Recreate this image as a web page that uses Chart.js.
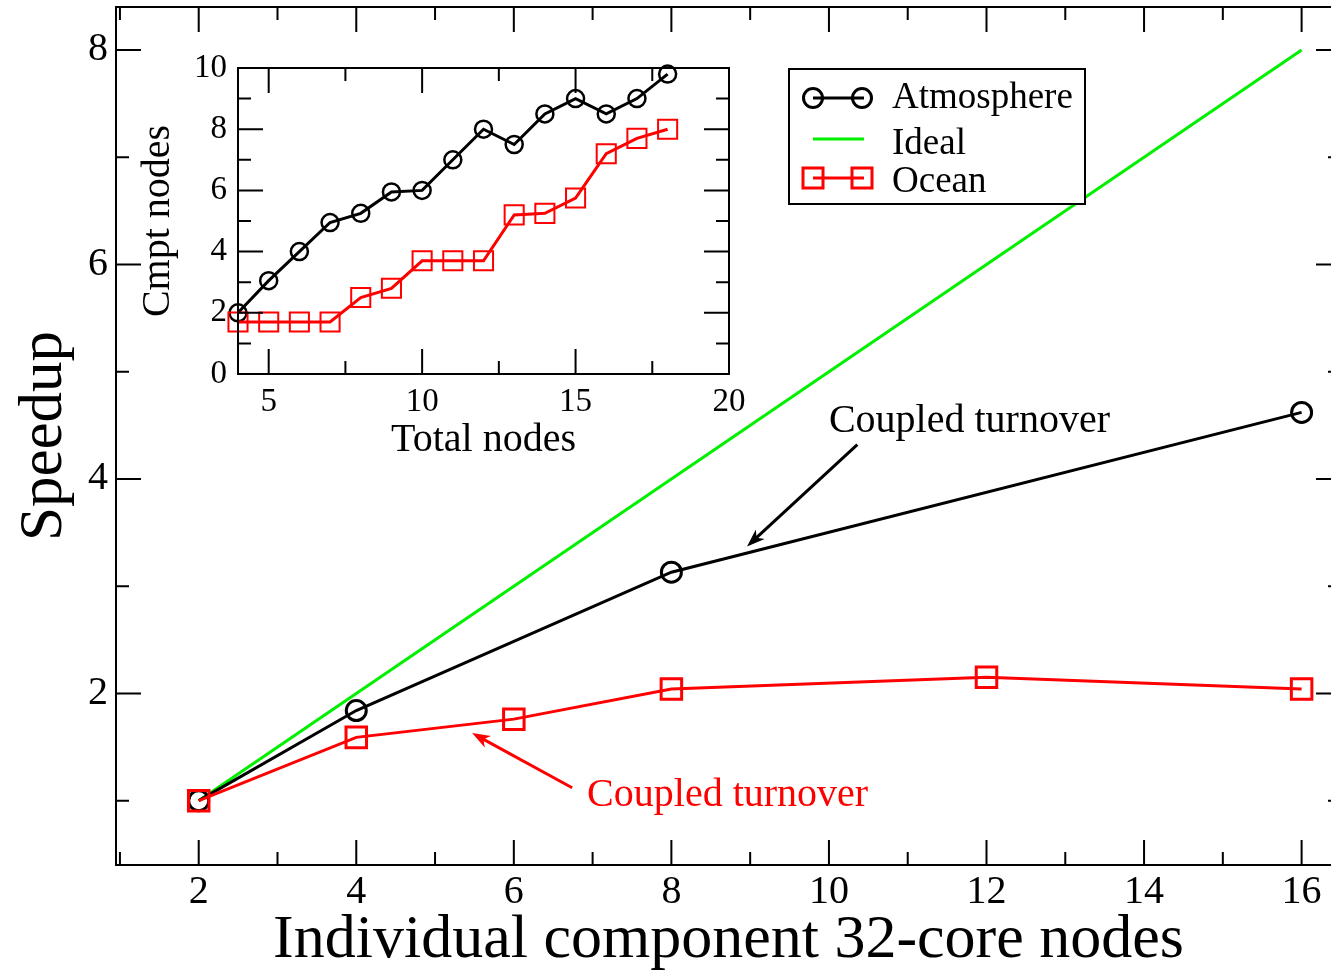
<!DOCTYPE html>
<html>
<head>
<meta charset="utf-8">
<title>Speedup</title>
<script src="https://cdn.jsdelivr.net/npm/chart.js@4.4.0/dist/chart.umd.min.js"></script>
<style>
  html, body { margin: 0; padding: 0; background: #fff; overflow: hidden; }
  #main { position: absolute; left: 0; top: 0; }
  #inset { position: absolute; left: 120px; top: 28px; }
</style>
</head>
<body>
<canvas id="main" width="1350" height="973"></canvas>
<canvas id="inset" width="649" height="452"></canvas>
<script>
// Main chart data
const atmX = [2, 4, 8, 16];
const atmY = [1, 1.84, 3.13, 4.62];
const idealX = [2, 16];
const idealY = [1, 8];
const oceanX = [2, 4, 6, 8, 12, 16];
const oceanY = [1, 1.59, 1.76, 2.04, 2.15, 2.04];

const xTicks = [2, 4, 6, 8, 10, 12, 14, 16];
const xMinor = [1, 3, 5, 7, 9, 11, 13, 15];
const yTicks = [2, 4, 6, 8];
const yMinor = [1, 3, 5, 7];

// Inset data
const insetX = [4, 5, 6, 7, 8, 9, 10, 11, 12, 13, 14, 15, 16, 17, 18];
const insetAtm = [2, 3.05, 4, 4.95, 5.25, 5.95, 6, 7, 8, 7.5, 8.5, 9, 8.5, 9, 9.8];
const insetOcean = [1.7, 1.7, 1.7, 1.7, 2.5, 2.8, 3.7, 3.7, 3.7, 5.2, 5.25, 5.75, 7.2, 7.7, 8];

const insetXTicks = [5, 10, 15, 20];
const insetXMinor = [7.5, 12.5, 17.5];
const insetYTicks = [0, 2, 4, 6, 8, 10];
const insetYMinor = [1, 3, 5, 7, 9];

// Annotations (data coordinates)
const noteLabels = ['Coupled turnover', 'Coupled turnover'];
const noteColors = ['#000', '#ff0000'];
const noteTextAt = [[10, 4.44], [6.93, 0.95]];
const noteTail = [[10.36, 4.32], [6.74, 1.12]];
const noteHead = [[8.96, 3.37], [5.47, 1.63]];

const RED = '#ff0000';
const GREEN = '#00f000';
const SERIF = '"Liberation Serif", "DejaVu Serif", serif';

Chart.defaults.font.family = SERIF;
Chart.defaults.color = '#000';

const pts = (xs, ys) => xs.map((x, i) => ({x: x, y: ys[i]}));

// frame plus inward ticks on all four sides
const frameTicks = {
  id: 'frameTicks',
  beforeDraw(chart, args, o) {
    if (!o.fill) return;
    const a = chart.chartArea;
    chart.ctx.save();
    chart.ctx.fillStyle = '#fff';
    chart.ctx.fillRect(a.left, a.top, a.right - a.left, a.bottom - a.top);
    chart.ctx.restore();
  },
  afterDatasetsDraw(chart, args, o) {
    const {ctx, chartArea: a} = chart;
    const sx = chart.scales.x, sy = chart.scales.y;
    ctx.save();
    ctx.strokeStyle = '#000';
    ctx.lineWidth = 2;
    ctx.beginPath();
    const vt = (vals, len) => vals.forEach(v => {
      const p = sx.getPixelForValue(v);
      ctx.moveTo(p, a.bottom); ctx.lineTo(p, a.bottom - len);
      ctx.moveTo(p, a.top); ctx.lineTo(p, a.top + len);
    });
    const ht = (vals, len) => vals.forEach(v => {
      const p = sy.getPixelForValue(v);
      ctx.moveTo(a.left, p); ctx.lineTo(a.left + len, p);
      ctx.moveTo(a.right, p); ctx.lineTo(a.right - len, p);
    });
    vt(o.xMajor, 25); vt(o.xMinor, 13);
    ht(o.yMajor, 25); ht(o.yMinor, 13);
    ctx.stroke();
    ctx.strokeRect(a.left, a.top, a.right - a.left, a.bottom - a.top);
    ctx.restore();
  }
};

function marker(ctx, style, x, y, color) {
  ctx.strokeStyle = color;
  ctx.lineWidth = 3;
  ctx.beginPath();
  if (style === 'circle') ctx.arc(x, y, 9.5, 0, Math.PI * 2);
  else ctx.rect(x - 10, y - 10, 20, 20);
  ctx.stroke();
}

const legendBox = {
  id: 'legendBox',
  afterDraw(chart) {
    const ctx = chart.ctx;
    ctx.save();
    ctx.fillStyle = '#fff';
    ctx.fillRect(789, 69, 296, 135);
    ctx.strokeStyle = '#000';
    ctx.lineWidth = 2;
    ctx.strokeRect(789, 69, 296, 135);
    const rows = [
      {label: 'Atmosphere', color: '#000', style: 'circle', y: 98, base: 108},
      {label: 'Ideal', color: GREEN, style: null, y: 139, base: 154},
      {label: 'Ocean', color: RED, style: 'rect', y: 178, base: 192}
    ];
    rows.forEach(r => {
      ctx.strokeStyle = r.color;
      ctx.lineWidth = 3;
      ctx.beginPath();
      ctx.moveTo(813, r.y); ctx.lineTo(864, r.y);
      ctx.stroke();
      if (r.style) { marker(ctx, r.style, 813, r.y, r.color); marker(ctx, r.style, 862, r.y, r.color); }
      ctx.fillStyle = '#000';
      ctx.font = '37px ' + SERIF;
      ctx.textAlign = 'left';
      ctx.textBaseline = 'alphabetic';
      ctx.fillText(r.label, 892, r.base);
    });
    ctx.restore();
  }
};

const notes = {
  id: 'notes',
  afterDatasetsDraw(chart) {
    const {ctx} = chart;
    const sx = chart.scales.x, sy = chart.scales.y;
    ctx.save();
    noteLabels.forEach((txt, i) => {
      const c = noteColors[i];
      const tx = sx.getPixelForValue(noteTail[i][0]), ty = sy.getPixelForValue(noteTail[i][1]);
      const hx = sx.getPixelForValue(noteHead[i][0]), hy = sy.getPixelForValue(noteHead[i][1]);
      const ang = Math.atan2(hy - ty, hx - tx);
      const cs = Math.cos(ang), sn = Math.sin(ang);
      ctx.strokeStyle = c;
      ctx.fillStyle = c;
      ctx.lineWidth = 3;
      ctx.beginPath();
      ctx.moveTo(tx, ty);
      ctx.lineTo(hx - 10 * cs, hy - 10 * sn);
      ctx.stroke();
      ctx.beginPath();
      ctx.moveTo(hx, hy);
      ctx.lineTo(hx - 18 * cs + 6.5 * sn, hy - 18 * sn - 6.5 * cs);
      ctx.lineTo(hx - 13 * cs, hy - 13 * sn);
      ctx.lineTo(hx - 18 * cs - 6.5 * sn, hy - 18 * sn + 6.5 * cs);
      ctx.closePath();
      ctx.fill();
      ctx.font = '40px ' + SERIF;
      ctx.textAlign = 'left';
      ctx.textBaseline = 'alphabetic';
      ctx.fillText(txt, sx.getPixelForValue(noteTextAt[i][0]), sy.getPixelForValue(noteTextAt[i][1]));
    });
    ctx.restore();
  }
};

// Main chart
new Chart(document.getElementById('main'), {
  type: 'line',
  data: {
    datasets: [
      {
        label: 'Atmosphere', data: pts(atmX, atmY), order: 1,
        borderColor: '#000', borderWidth: 3, tension: 0,
        pointStyle: 'circle', pointRadius: 10, pointBorderWidth: 3,
        pointBorderColor: '#000', pointBackgroundColor: 'rgba(0,0,0,0)'
      },
      {
        label: 'Ideal', data: pts(idealX, idealY), order: 2,
        borderColor: GREEN, borderWidth: 3, tension: 0, pointRadius: 0
      },
      {
        label: 'Ocean', data: pts(oceanX, oceanY), order: 0,
        borderColor: RED, borderWidth: 3, tension: 0,
        pointStyle: 'rect', pointRadius: 14.5, pointBorderWidth: 3,
        pointBorderColor: RED, pointBackgroundColor: 'rgba(0,0,0,0)'
      }
    ]
  },
  options: {
    responsive: false,
    animation: false,
    events: [],
    layout: { autoPadding: false, padding: { left: 0, top: 7, right: 9, bottom: 0 } },
    plugins: {
      legend: { display: false },
      tooltip: { enabled: false },
      frameTicks: { xMajor: xTicks, xMinor: xMinor, yMajor: yTicks, yMinor: yMinor }
    },
    scales: {
      x: {
        type: 'linear', min: 0.95, max: 16.5,
        grid: { display: false, drawTicks: false },
        border: { display: false },
        ticks: { font: { size: 40, lineHeight: 1 }, color: '#000', padding: 7.5, maxRotation: 0, autoSkip: false },
        afterBuildTicks: s => { s.ticks = xTicks.map(v => ({value: v})); },
        afterFit: s => { s.height = 108; s.paddingLeft = 0; s.paddingRight = 0; },
        title: { display: true, text: 'Individual component 32-core nodes', color: '#000',
                 font: { size: 62, lineHeight: 1 }, padding: 1 }
      },
      y: {
        type: 'linear', min: 0.4, max: 8.4,
        grid: { display: false, drawTicks: false },
        border: { display: false },
        ticks: { font: { size: 40, lineHeight: 1 }, color: '#000', padding: 8, autoSkip: false },
        afterBuildTicks: s => { s.ticks = yTicks.map(v => ({value: v})); },
        afterFit: s => { s.width = 116; s.paddingTop = 0; s.paddingBottom = 0; },
        title: { display: true, text: 'Speedup', color: '#000',
                 font: { size: 61, lineHeight: 1 }, padding: 14 }
      }
    }
  },
  plugins: [frameTicks, notes, legendBox]
});

// Inset chart
new Chart(document.getElementById('inset'), {
  type: 'line',
  data: {
    datasets: [
      {
        label: 'Atmosphere', data: pts(insetX, insetAtm), order: 1, clip: false,
        borderColor: '#000', borderWidth: 3, tension: 0,
        pointStyle: 'circle', pointRadius: 8.5, pointBorderWidth: 2.5,
        pointBorderColor: '#000', pointBackgroundColor: 'rgba(0,0,0,0)'
      },
      {
        label: 'Ocean', data: pts(insetX, insetOcean), order: 0, clip: false,
        borderColor: RED, borderWidth: 3, tension: 0,
        pointStyle: 'rect', pointRadius: 13.5, pointBorderWidth: 2,
        pointBorderColor: RED, pointBackgroundColor: 'rgba(0,0,0,0)'
      }
    ]
  },
  options: {
    responsive: false,
    animation: false,
    events: [],
    layout: { autoPadding: false, padding: { left: 0, top: 40, right: 40, bottom: 0 } },
    plugins: {
      legend: { display: false },
      tooltip: { enabled: false },
      frameTicks: { fill: true, xMajor: insetXTicks, xMinor: insetXMinor, yMajor: insetYTicks, yMinor: insetYMinor }
    },
    scales: {
      x: {
        type: 'linear', min: 4, max: 20,
        grid: { display: false, drawTicks: false },
        border: { display: false },
        ticks: { font: { size: 33, lineHeight: 1 }, color: '#000', padding: 12, maxRotation: 0, autoSkip: false },
        afterBuildTicks: s => { s.ticks = insetXTicks.map(v => ({value: v})); },
        afterFit: s => { s.height = 106; s.paddingLeft = 0; s.paddingRight = 0; },
        title: { display: true, text: 'Total nodes', color: '#000',
                 font: { size: 40, lineHeight: 1 }, padding: 20 }
      },
      y: {
        type: 'linear', min: 0, max: 10,
        grid: { display: false, drawTicks: false },
        border: { display: false },
        ticks: { font: { size: 33, lineHeight: 1 }, color: '#000', padding: 11, autoSkip: false },
        afterBuildTicks: s => { s.ticks = insetYTicks.map(v => ({value: v})); },
        afterFit: s => { s.width = 118; s.paddingTop = 0; s.paddingBottom = 0; },
        title: { display: true, text: 'Cmpt nodes', color: '#000',
                 font: { size: 40, lineHeight: 1 }, padding: 18 }
      }
    }
  },
  plugins: [frameTicks]
});
</script>
</body>
</html>
